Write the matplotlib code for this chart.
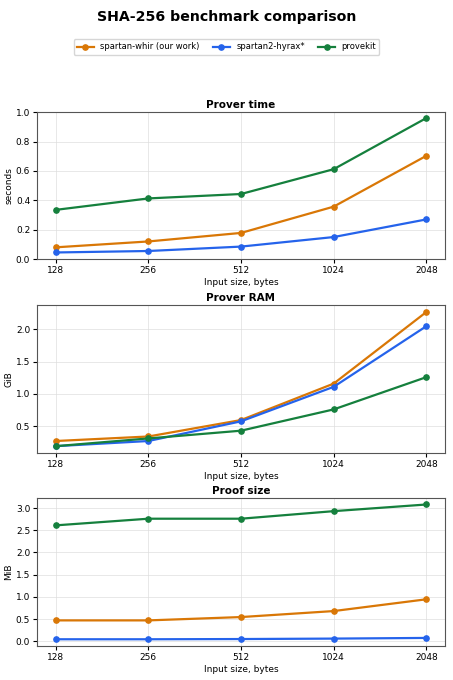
import matplotlib
matplotlib.use("Agg")
import matplotlib.pyplot as plt

sizes = [128, 256, 512, 1024, 2048]
names = ["spartan-whir (our work)", "spartan2-hyrax*", "provekit"]
colors = ["#d97706", "#2563eb", "#15803d"]

time_whir = [0.080, 0.120, 0.178, 0.357, 0.703]
time_hyrax = [0.045, 0.055, 0.085, 0.150, 0.270]
time_provekit = [0.335, 0.413, 0.443, 0.612, 0.960]

ram_whir = [0.27, 0.34, 0.595, 1.16, 2.27]
ram_hyrax = [0.19, 0.27, 0.575, 1.11, 2.05]
ram_provekit = [0.19, 0.31, 0.43, 0.76, 1.26]

proof_whir = [0.47, 0.47, 0.545, 0.68, 0.945]
proof_hyrax = [0.045, 0.045, 0.05, 0.06, 0.075]
proof_provekit = [2.61, 2.76, 2.76, 2.93, 3.08]

panels = [
    ("Prover time", "seconds", [time_whir, time_hyrax, time_provekit]),
    ("Prover RAM", "GiB", [ram_whir, ram_hyrax, ram_provekit]),
    ("Proof size", "MiB", [proof_whir, proof_hyrax, proof_provekit]),
]

fig = plt.figure(figsize=(4.53, 6.8), dpi=100)
fig.suptitle("SHA-256 benchmark comparison", fontsize=10.2, fontweight="bold", y=0.986)

boxes = [(0.082, 0.619, 0.9, 0.216), (0.082, 0.334, 0.9, 0.217), (0.082, 0.05, 0.9, 0.218)]

lines = []
for (title, ylabel, series), box in zip(panels, boxes):
    ax = fig.add_axes(box)
    for vals, name, c in zip(series, names, colors):
        ln, = ax.plot(sizes, vals, marker="o", markersize=3.8, lw=1.6, color=c, label=name)
        if title == "Prover time":
            lines.append(ln)
    ax.set_xscale("log", base=2)
    ax.set_xticks(sizes)
    ax.set_xticklabels([str(s) for s in sizes])
    ax.minorticks_off()
    ax.set_title(title, fontsize=7.5, fontweight="bold", pad=3)
    ax.set_ylabel(ylabel, fontsize=6.5, labelpad=2)
    ax.set_xlabel("Input size, bytes", fontsize=6.5, labelpad=2)
    ax.tick_params(labelsize=6.5, length=3, pad=2)
    ax.grid(True, color="#dddddd", lw=0.6, alpha=0.8)
    for s in ax.spines.values():
        s.set_color("#555555")
    if title == "Prover time":
        ax.set_ylim(0, 1.0)

fig.legend(handles=lines, loc="center", bbox_to_anchor=(0.5, 0.931), ncol=3,
           fontsize=6, frameon=True, handlelength=2.0, columnspacing=1.6,
           borderpad=0.4, edgecolor="#cccccc")

fig.savefig("out.png", dpi=100)
